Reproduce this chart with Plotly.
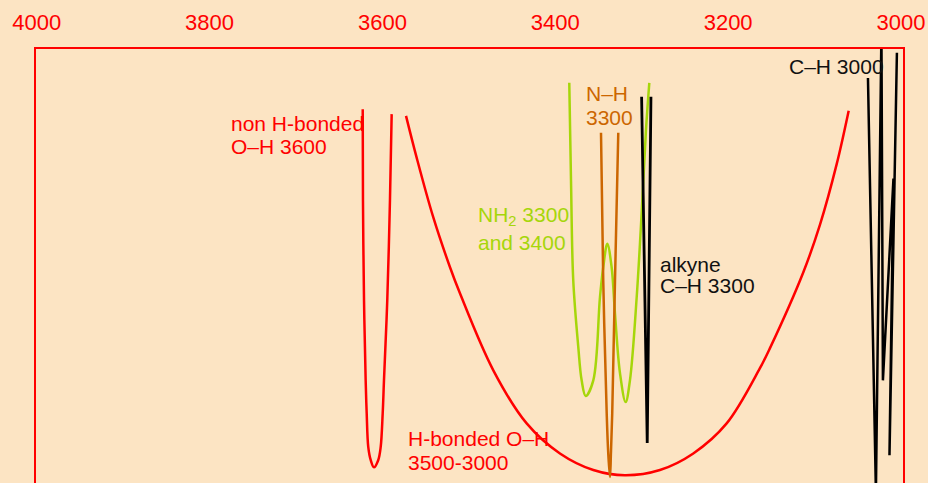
import plotly.graph_objects as go

# ---- data (wavenumber cm-1, transmittance %) ----
oh_free_wn = [3622.8, 3622.5, 3621.3, 3619.4, 3618.2, 3616.4, 3613.6, 3609.8,
              3604.8, 3602.0, 3599.7, 3598.2, 3594.4, 3591.3, 3589.3]
oh_free_t = [85.9, 64.9, 42.0, 23.6, 16.0, 8.3, 5.3, 3.6,
             5.3, 8.3, 16.0, 23.6, 42.0, 64.9, 84.8]

oh_hb_wn = [3572.7, 3560.4, 3541.2, 3521.8, 3510.3, 3471.7, 3433.1, 3394.6, 3356.0, 3319.4,
            3278.9, 3240.3, 3201.7, 3163.2, 3151.6, 3113.1, 3093.7, 3074.4, 3060.5]
oh_hb_t = [84.4, 74.8, 61.1, 49.6, 43.6, 25.9, 13.7, 6.8, 3.0, 1.8,
           3.0, 6.8, 13.7, 26.4, 31.0, 48.4, 59.4, 73.3, 85.6]

nh2_wn = [3383.8, 3381.8, 3379.2, 3373.4, 3369.5, 3364.8, 3356.0, 3348.3, 3344.5, 3339.8,
          3334.8, 3330.9, 3325.1, 3318.6, 3313.6, 3305.8, 3300.1, 3295.1, 3291.2]
nh2_t = [92.0, 69.5, 46.6, 31.3, 23.6, 20.0, 23.6, 42.7, 49.6, 55.0,
         49.6, 38.9, 25.2, 18.6, 23.6, 42.7, 61.9, 81.0, 92.0]

nh_wn = [3347.1, 3344.5, 3340.5, 3338.7, 3336.7, 3335.6, 3334.1, 3330.9, 3327.1]
nh_t = [80.5, 46.6, 16.0, 6.8, 1.4, 6.8, 16.0, 46.6, 80.5]

alkyne_wn = [3300.1, 3293.6, 3289.3]
alkyne_t = [88.8, 9.2, 88.8]

ch_wn = [3038.2, 3029.0, 3022.6, 3020.9, 3008.7, 3013.3, 3004.7]
ch_t = [93.1, -2.1, 103.9, 23.6, 70.0, 6.4, 98.9]

tick_vals = [4000, 3800, 3600, 3400, 3200, 3000]
tick_text = ["4000", "3800", "3600", "3400", "3200", "3000"]

# label lines: (text, left wavenumber, transmittance, colour)
labels = [
    ("non H-bonded", 3777.5, 82.6, "#FF0000"),
    ("O–H 3600", 3777.5, 77.4, "#FF0000"),
    ("H-bonded O–H", 3572.7, 10.3, "#FF0000"),
    ("3500-3000", 3572.7, 4.8, "#FF0000"),
    ("N–H", 3366.7, 89.6, "#CC6600"),
    ("3300", 3366.7, 84.0, "#CC6600"),
    ("NH<sub>2</sub> 3300", 3491.4, 61.3, "#A6D60A"),
    ("and 3400", 3491.4, 55.2, "#A6D60A"),
    ("alkyne", 3281.2, 50.3, "#111111"),
    ("C–H 3300", 3281.2, 45.3, "#111111"),
    ("C–H 3000", 3131.6, 95.7, "#111111"),
]

BG = "#FCE4C3"
RED = "#FF0000"
FONT = "Liberation Sans, Arial, sans-serif"

fig = go.Figure()
series = [
    (oh_free_wn, oh_free_t, RED, 2.5, "spline"),
    (oh_hb_wn, oh_hb_t, RED, 2.5, "spline"),
    (nh2_wn, nh2_t, "#A6D60A", 2.5, "spline"),
    (nh_wn, nh_t, "#CC6600", 2.5, "spline"),
    (alkyne_wn, alkyne_t, "#000000", 2.8, "linear"),
    (ch_wn, ch_t, "#000000", 2.5, "linear"),
]
for xs, ys, col, w, shp in series:
    fig.add_trace(go.Scatter(x=xs, y=ys, mode="lines",
                             line=dict(color=col, width=w, shape=shp, smoothing=1.0),
                             hoverinfo="skip", showlegend=False))

for text, x, y, col in labels:
    fig.add_annotation(x=x, y=y, text=text, xanchor="left", yanchor="middle",
                       showarrow=False, font=dict(color=col, size=21, family=FONT))

fig.add_shape(type="rect", xref="paper", yref="paper", x0=0, x1=1, y0=-0.2, y1=1,
              line=dict(color=RED, width=2), layer="above")

fig.update_layout(
    width=928, height=483,
    margin=dict(l=35, r=24, t=48, b=0, pad=0),
    paper_bgcolor=BG, plot_bgcolor=BG,
    showlegend=False,
    xaxis=dict(range=[4002, 2996.5], side="top", tickvals=tick_vals, ticktext=tick_text,
               showgrid=False, zeroline=False, showline=False,
               ticks="outside", ticklen=8, tickcolor="rgba(0,0,0,0)",
               tickfont=dict(color=RED, size=22, family=FONT)),
    yaxis=dict(range=[0, 100], visible=False, showgrid=False, zeroline=False),
)

fig.write_html("out.html", config={"displayModeBar": False, "staticPlot": True},
               post_script="document.body.style.margin='0px';document.body.style.overflow='hidden';")
